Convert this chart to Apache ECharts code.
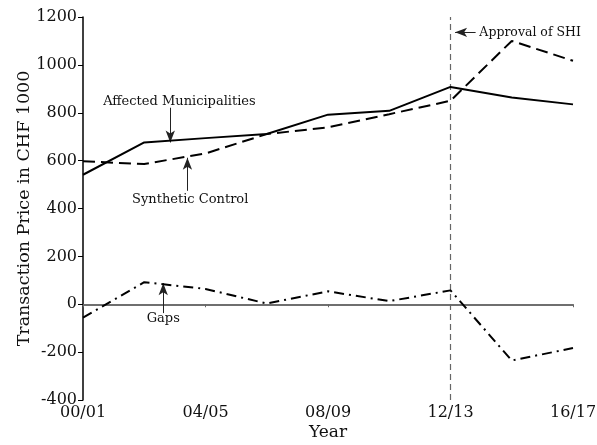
<!DOCTYPE html>
<html><head><meta charset="utf-8">
<script src="https://cdn.jsdelivr.net/npm/echarts@6/dist/echarts.min.js"></script>
<style>html,body{margin:0;padding:0;background:#fff}#c{width:597px;height:445px}</style>
</head><body><div id="c"></div>
<script>
// Year index (0 = 00/01 ... 16 = 16/17)
const years = [0, 2, 4, 6, 8, 10, 12, 14, 16];
const tickLabels = {0: '00/01', 4: '04/05', 8: '08/09', 12: '12/13', 16: '16/17'};
const affected = [541, 676, 694, 711, 792, 808, 908, 864, 835];
const synthetic = [597, 586, 630, 711, 739, 794, 850, 1100, 1017];
const gaps = [-56, 92, 64, 3, 54, 13, 58, -235, -183];
const treatmentYear = 12;

const FONT = 'DejaVu Serif';
const pair = arr => years.map((y, i) => [y, arr[i]]);

const arrowStyle = {color: '#222', width: 1, type: 'solid'};
const chart = echarts.init(document.getElementById('c'), null, {renderer: 'canvas'});
chart.setOption({
  animation: false,
  grid: {left: 83, right: 24, top: 17, bottom: 45, containLabel: false, outerBoundsMode: 'none'},
  xAxis: {
    type: 'value', min: 0, max: 16, interval: 4,
    name: 'Year', nameLocation: 'middle', nameGap: 24, nameMoveOverlap: false,
    nameTextStyle: {fontFamily: FONT, fontSize: 17, color: '#111'},
    axisLine: {lineStyle: {color: '#666', width: 1.5}},
    axisTick: {show: true, length: 3, lineStyle: {color: '#666'}},
    axisLabel: {fontFamily: FONT, fontSize: 16, color: '#111', margin: 5,
      formatter: v => tickLabels[v] || ''},
    splitLine: {show: false}
  },
  yAxis: {
    type: 'value', min: -400, max: 1200, interval: 200,
    name: 'Transaction Price in CHF 1000', nameLocation: 'middle', nameGap: 50, nameMoveOverlap: false,
    nameTextStyle: {fontFamily: FONT, fontSize: 17.5, color: '#111'},
    axisLine: {show: true, lineStyle: {color: '#000', width: 1.5}},
    axisTick: {show: true, length: 5, lineStyle: {color: '#000'}},
    axisLabel: {fontFamily: FONT, fontSize: 16, color: '#111', margin: 6,
      formatter: v => String(v)},
    splitLine: {show: false}
  },
  series: [
    {
      name: 'Affected Municipalities', type: 'line', data: pair(affected),
      symbol: 'none', lineStyle: {color: '#000', width: 2}, z: 5,
      markLine: {
        silent: true, symbol: ['none', 'none'], label: {show: false},
        lineStyle: {color: '#666', width: 1.5, type: 'solid'},
        data: [{yAxis: 0}]
      }
    },
    {
      name: 'Synthetic Control', type: 'line', data: pair(synthetic),
      symbol: 'none', lineStyle: {color: '#000', width: 2, type: [12, 6]}, z: 5,
      markLine: {
        silent: true, symbol: ['none', 'none'], label: {show: false},
        lineStyle: {color: '#666', width: 1.2, type: [6, 4]},
        data: [{xAxis: treatmentYear}]
      }
    },
    {
      name: 'Gaps', type: 'line', data: pair(gaps),
      symbol: 'none', lineStyle: {color: '#000', width: 2, type: [10, 5, 2, 5]}, z: 5,
      markLine: {
        silent: true, symbol: ['none', 'arrow'], symbolSize: [7, 12], label: {show: false},
        lineStyle: arrowStyle,
        data: [
          [{coord: [2.85, 821]}, {coord: [2.85, 676]}],
          [{coord: [3.41, 474]}, {coord: [3.41, 612]}],
          [{coord: [2.62, -37]}, {coord: [2.62, 88]}],
          [{coord: [12.82, 1136]}, {coord: [12.15, 1136]}]
        ]
      },
      markPoint: {
        silent: true, symbol: 'rect', symbolSize: 0,
        label: {show: true, fontFamily: FONT, fontSize: 13, color: '#111', position: 'inside'},
        data: [
          {coord: [3.15, 846], value: 'Affected Municipalities', label: {formatter: 'Affected Municipalities'}},
          {coord: [3.5, 438], value: 'Synthetic Control', label: {formatter: 'Synthetic Control'}},
          {coord: [2.62, -58], value: 'Gaps', label: {formatter: 'Gaps'}},
          {coord: [14.6, 1136], value: 'Approval of SHI', label: {formatter: 'Approval of SHI', fontSize: 12.5}}
        ]
      }
    }
  ]
});
</script></body></html>
